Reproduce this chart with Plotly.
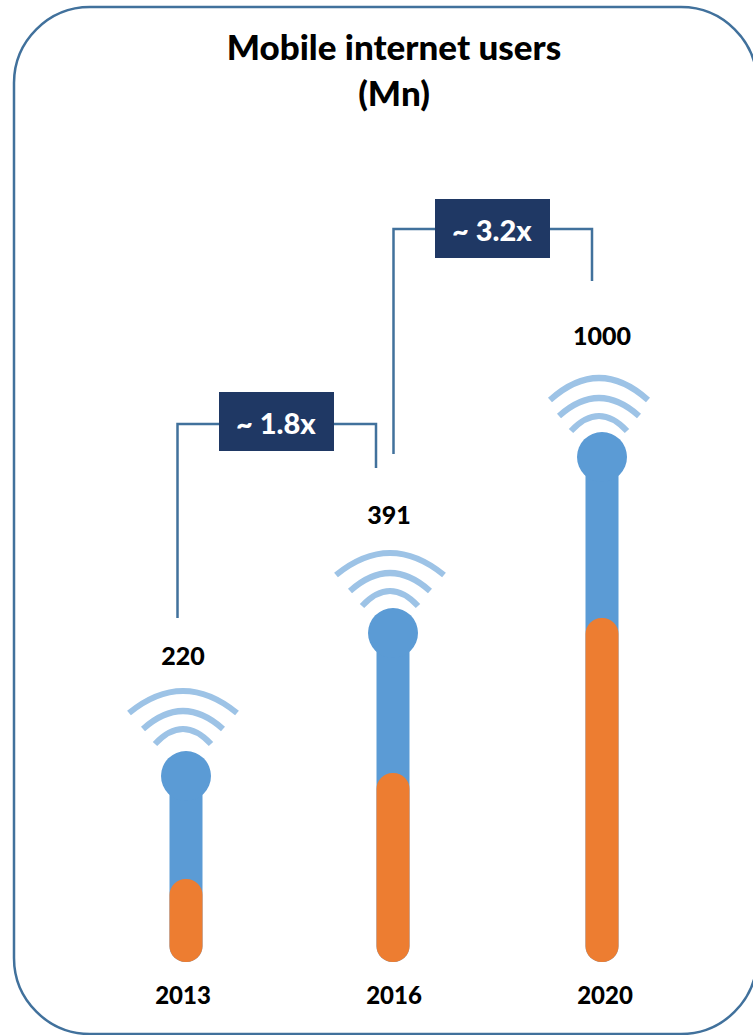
import plotly.graph_objects as go

# ---- data ----
years = ["2013", "2016", "2020"]
users_mn = ["220", "391", "1000"]
bar_x = [186, 393, 602]
tower_height = [186, 329, 505]
orange_height = [83, 189, 344]
value_label_x = [183, 389, 602]
value_label_y = [306, 447, 626]
value_label_y = [303, 444, 623]
year_label_x = [183, 394, 605]
wifi_shift = [5, 0, -1]
wifi_outer_halfwidth = [54, 54, 49]
multiples = ["~ 1.8x", "~ 3.2x"]
multiple_x = [276, 492]
multiple_y = [540, 733]
box_x0 = [219, 435]
box_x1 = [334, 550]
box_y0 = [511, 704]
box_y1 = [570, 763]
bracket_left_x = [177.5, 393.5]
bracket_right_x = [376, 592]
bracket_top_y = [538, 733]
bracket_left_bottom = [344, 508]
bracket_right_bottom = [494, 681]

W, H, BASE = 753, 1035, 962
BLUE, ORANGE, LIGHT, LINE, NAVY = "#5B9BD5", "#ED7D31", "#9DC3E6", "#41719C", "#1F3864"
FONT = "Lato"
R = 16

fig = go.Figure()
fig.add_trace(go.Bar(x=bar_x, y=tower_height, base=[0] * 3, width=33,
                     marker=dict(color=BLUE, line_width=0, cornerradius=R)))
fig.add_trace(go.Bar(x=bar_x, y=orange_height, base=[0] * 3, width=33,
                     marker=dict(color=ORANGE, line_width=0, cornerradius=R)))
fig.add_trace(go.Scatter(x=bar_x, y=tower_height, mode="markers",
                         marker=dict(size=50, color=BLUE, line_width=0)))
fig.add_trace(go.Scatter(x=value_label_x, y=value_label_y, mode="text", text=users_mn,
                         textposition="middle center",
                         textfont=dict(family=FONT, size=25, color="#000000", weight=900)))

shapes = []
# rounded frame, in paper units so that it can run past the plot area
def px(v): return v / W
def py(p): return (BASE - p) / BASE
L, T, RT, B, C = 14, 7, 757, 1034, 76
K = C * 0.45  # distance of the bezier handles from the corner
frame = (f"M {px(L)} {py(T + C)} C {px(L)} {py(T + K)} {px(L + K)} {py(T)} {px(L + C)} {py(T)} "
         f"L {px(RT - C)} {py(T)} C {px(RT - K)} {py(T)} {px(RT)} {py(T + K)} {px(RT)} {py(T + C)} "
         f"L {px(RT)} {py(B - C)} C {px(RT)} {py(B - K)} {px(RT - K)} {py(B)} {px(RT - C)} {py(B)} "
         f"L {px(L + C)} {py(B)} C {px(L + K)} {py(B)} {px(L)} {py(B - K)} {px(L)} {py(B - C)} Z")
shapes.append(dict(type="path", path=frame, xref="paper", yref="paper", layer="below",
                   line=dict(color=LINE, width=2.5), fillcolor="white"))

# wifi arcs above every tower: half-width, end rise, apex rise
for x, t, s, outer in zip(bar_x, tower_height, wifi_shift, wifi_outer_halfwidth):
    for hw, rise_end, rise_top in [(outer, 58, 80), (40, 42, 60), (28, 27, 42)]:
        y_end, y_top = t + rise_end + s, t + rise_top + s
        cx, cy = x - 3, 2 * y_top - y_end
        shapes.append(dict(type="path", xref="x", yref="y",
                           path=f"M {cx - hw} {y_end} Q {cx} {cy} {cx + hw} {y_end}",
                           line=dict(color=LIGHT, width=6)))

# growth brackets and their boxes
for i in range(2):
    shapes.append(dict(type="path", xref="x", yref="y",
                       path=(f"M {bracket_left_x[i]} {bracket_left_bottom[i]} "
                             f"L {bracket_left_x[i]} {bracket_top_y[i]} "
                             f"L {bracket_right_x[i]} {bracket_top_y[i]} "
                             f"L {bracket_right_x[i]} {bracket_right_bottom[i]}"),
                       line=dict(color=LINE, width=2.5)))
    shapes.append(dict(type="rect", xref="x", yref="y", x0=box_x0[i], x1=box_x1[i],
                       y0=box_y0[i], y1=box_y1[i], fillcolor=NAVY, line_width=0))

annotations = [dict(x=x, y=y, xref="x", yref="y", text=t, showarrow=False,
                    font=dict(family=FONT, size=29, color="white", weight=900),
                    xanchor="center", yanchor="middle")
               for x, y, t in zip(multiple_x, multiple_y, multiples)]

fig.update_layout(
    width=W, height=H, margin=dict(l=0, r=0, t=0, b=H - BASE), autosize=False,
    paper_bgcolor="white", plot_bgcolor="rgba(0,0,0,0)", showlegend=False,
    barmode="overlay", hovermode=False,
    title=dict(text="Mobile internet users<br>(Mn)", x=394 / W, xanchor="center",
               y=1 - 60 / H, yanchor="top",
               font=dict(family=FONT, size=35, color="#000000", weight=900)),
    xaxis=dict(range=[0, W], showgrid=False, zeroline=False, showline=False,
               tickmode="array", tickvals=year_label_x, ticktext=years,
               ticks="outside", ticklen=12, tickcolor="rgba(0,0,0,0)",
               tickfont=dict(family=FONT, size=24, color="#000000", weight=900),
               automargin=False),
    yaxis=dict(range=[0, BASE], visible=False, automargin=False),
    shapes=shapes, annotations=annotations,
)
fig.write_html("out.html", post_script="document.body.style.margin='0';",
               config=dict(displayModeBar=False))
